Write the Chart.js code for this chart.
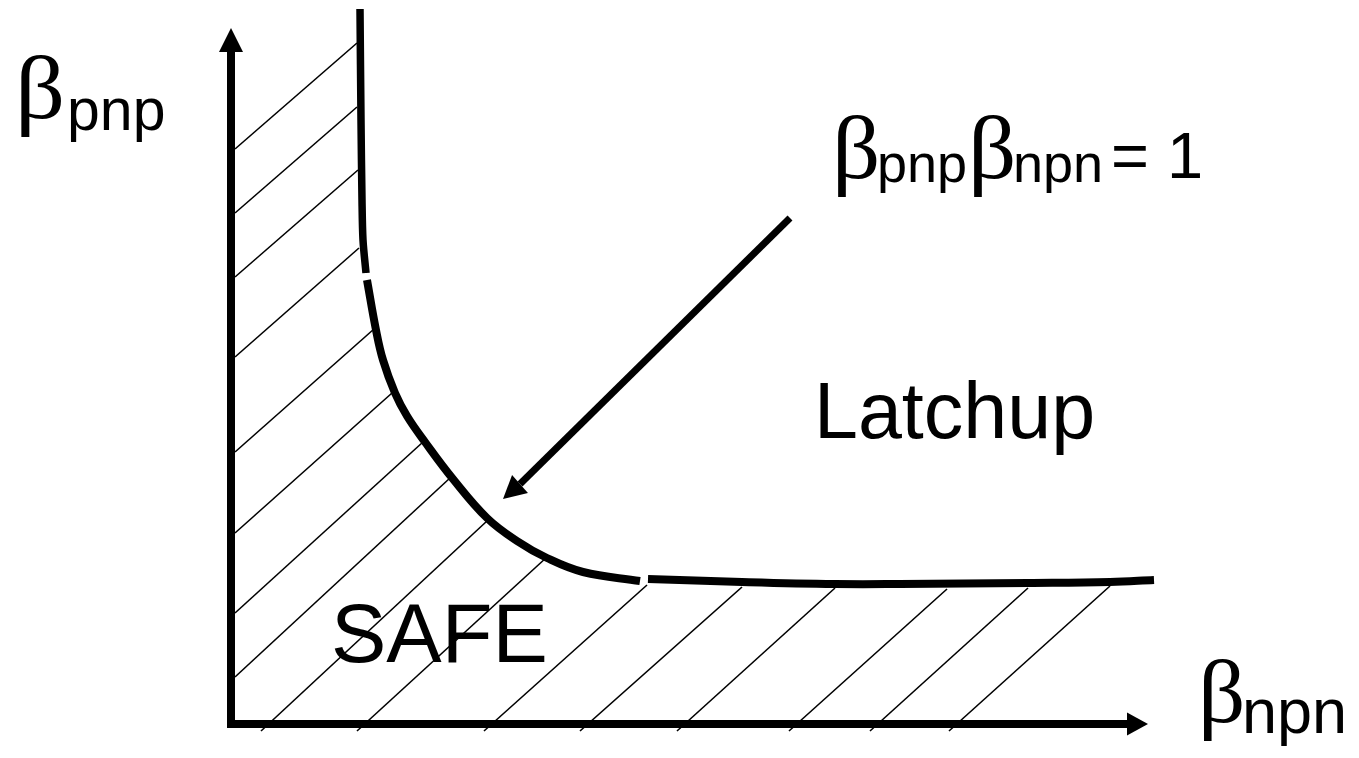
<!DOCTYPE html>
<html>
<head>
<meta charset="utf-8">
<title>Latchup condition</title>
<script src="https://cdn.jsdelivr.net/npm/chart.js@4.4.0/dist/chart.umd.min.js"></script>
<style>
    html, body { margin: 0; padding: 0; background: #ffffff; }
    #wrap { width: 1359px; height: 758px; position: relative; }
</style>
</head>
<body>
<div id="wrap"><canvas id="mycanvas"></canvas></div>
<script>
// beta_pnp * beta_npn = 1 boundary (beta_npn, beta_pnp)
var curveTop = [[1.29, 7.15], [1.30, 6.04], [1.31, 5.24], [1.32, 4.84], [1.35, 4.51]];
var curveBend = [[1.36, 4.44], [1.45, 3.94], [1.52, 3.64], [1.64, 3.31], [1.76, 3.08], [1.94, 2.82],
                 [2.22, 2.45], [2.56, 2.06], [2.86, 1.83], [3.16, 1.66], [3.52, 1.52], [4.09, 1.43]];
var curveFlat = [[4.17, 1.45], [5.11, 1.42], [6.04, 1.40], [6.69, 1.40], [7.97, 1.41], [8.79, 1.42], [9.23, 1.44]];

// axes: start, arrow base, arrow tip
var xAxisLine = [[-0.04, 0], [8.96, 0], [9.17, 0]];
var yAxisLine = [[0, -0.04], [0, 6.72], [0, 6.96]];
var pointer = [[5.59, 5.06], [2.89, 2.40], [2.72, 2.25]];

// hatching of the SAFE region: start and end of each stroke
var hatchFrom = [[0.04, 5.75], [0.04, 5.11], [0.04, 4.47], [0.04, 3.67], [0.04, 2.72], [0.04, 1.91],
                 [0.04, 1.11], [0.04, 0.47], [0.30, -0.07], [1.26, -0.07], [2.53, -0.07], [3.49, -0.07],
                 [4.46, -0.07], [5.58, -0.07], [6.39, -0.07], [7.18, -0.07]];
var hatchTo = [[1.26, 6.81], [1.26, 6.17], [1.27, 5.54], [1.28, 4.76], [1.43, 3.95], [1.61, 3.31],
               [1.92, 2.82], [2.19, 2.46], [2.56, 2.03], [3.16, 1.67], [4.16, 1.39], [5.11, 1.37],
               [6.04, 1.36], [7.16, 1.35], [7.97, 1.36], [8.79, 1.38]];

// text pieces: text, x, y (baseline), font, horizontal stretch
var labels = [
    ['\u03B2', -2.16, 6.06, '88px "Liberation Serif"', 1.12],
    ['pnp', -1.64, 5.94, '59px "Liberation Sans"', 1],
    ['\u03B2', 6.01, 5.46, '88px "Liberation Serif"', 1.08],
    ['pnp', 6.46, 5.42, '54px "Liberation Sans"', 1],
    ['\u03B2', 7.37, 5.46, '88px "Liberation Serif"', 1.08],
    ['npn', 7.82, 5.42, '54px "Liberation Sans"', 1],
    ['= 1', 8.80, 5.46, '65px "Liberation Sans"', 1],
    ['Latchup', 5.83, 2.86, '79px "Liberation Sans"', 1],
    ['SAFE', 1.00, 0.62, '83px "Liberation Sans"', 1],
    ['\u03B2', 9.67, 0.02, '88px "Liberation Serif"', 1.06],
    ['npn', 10.11, -0.09, '63px "Liberation Sans"', 1]
];

function toPoints(arr) {
    var out = [];
    for (var i in arr) {
        out.push({x: arr[i][0], y: arr[i][1]});
    }
    return out;
}

function lineSet(arr, width, tension) {
    return {
        data: toPoints(arr),
        showLine: true,
        borderColor: '#000000',
        borderWidth: width,
        borderCapStyle: 'butt',
        pointRadius: 0,
        tension: tension,
        fill: false
    };
}

function arrowSet(arr, width, headWidth) {
    var ds = lineSet(arr, width, 0);
    var last = arr.length - 1;
    ds.headWidth = headWidth;
    // last segment (base -> tip) is covered by the head
    ds.segment = {
        borderColor: function (ctx) {
            return ctx.p1DataIndex === last ? 'rgba(0,0,0,0)' : undefined;
        }
    };
    return ds;
}

var datasets = [
    lineSet(curveTop, 7.5, 0.3),
    lineSet(curveBend, 8, 0.4),
    lineSet(curveFlat, 8, 0.4),
    arrowSet(xAxisLine, 8, 23),
    arrowSet(yAxisLine, 8, 24),
    arrowSet(pointer, 7, 24)
];
for (var h = 0; h < hatchFrom.length; h++) {
    datasets.push(lineSet([hatchFrom[h], hatchTo[h]], 1.6, 0));
}

var arrowHeads = {
    id: 'arrowHeads',
    afterDatasetsDraw: function (chart) {
        var c = chart.ctx;
        chart.data.datasets.forEach(function (ds, i) {
            if (!ds.headWidth) return;
            var pts = chart.getDatasetMeta(i).data;
            var tip = pts[pts.length - 1];
            var base = pts[pts.length - 2];
            var dx = tip.x - base.x, dy = tip.y - base.y;
            var len = Math.sqrt(dx * dx + dy * dy);
            var nx = -dy / len * ds.headWidth / 2, ny = dx / len * ds.headWidth / 2;
            c.save();
            c.fillStyle = '#000000';
            c.beginPath();
            c.moveTo(tip.x, tip.y);
            c.lineTo(base.x + nx, base.y + ny);
            c.lineTo(base.x - nx, base.y - ny);
            c.closePath();
            c.fill();
            c.restore();
        });
    }
};

var textLabels = {
    id: 'textLabels',
    afterDatasetsDraw: function (chart) {
        var c = chart.ctx;
        var xs = chart.scales.x, ys = chart.scales.y;
        for (var i in labels) {
            c.save();
            c.fillStyle = '#000000';
            c.textAlign = 'left';
            c.textBaseline = 'alphabetic';
            c.font = labels[i][3];
            c.translate(xs.getPixelForValue(labels[i][1]), ys.getPixelForValue(labels[i][2]));
            c.scale(labels[i][4], 1);
            c.fillText(labels[i][0], 0, 0);
            c.restore();
        }
    }
};

var ctx = document.getElementById('mycanvas');

var diagram = new Chart(ctx, {
    type: 'scatter',
    data: { datasets: datasets },
    options: {
        responsive: true,
        maintainAspectRatio: false,
        animation: false,
        layout: { padding: 0 },
        plugins: {
            legend: { display: false },
            tooltip: { enabled: false }
        },
        scales: {
            x: { type: 'linear', min: -2.31, max: 11.28, display: false },
            y: { type: 'linear', min: -0.34, max: 7.24, display: false }
        }
    },
    plugins: [arrowHeads, textLabels]
});
</script>
</body>
</html>
